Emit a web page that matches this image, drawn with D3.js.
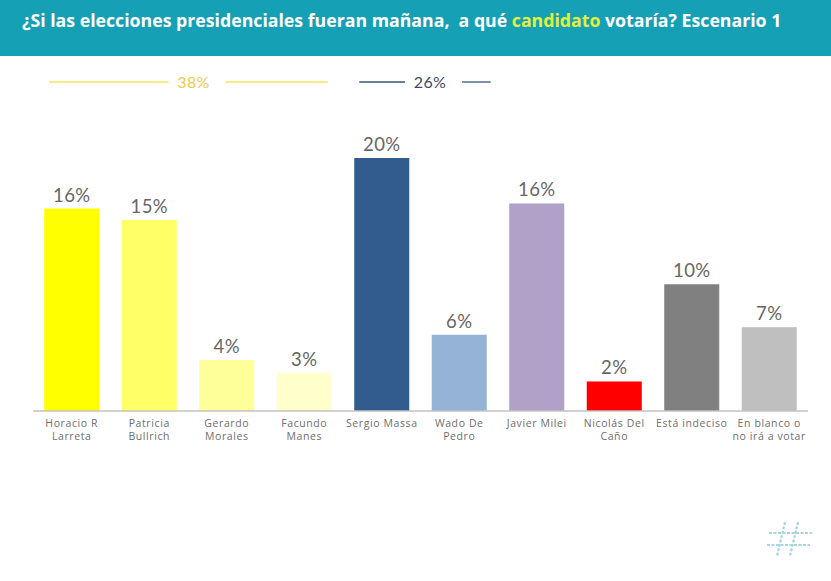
<!DOCTYPE html>
<html><head><meta charset="utf-8">
<script src="https://cdn.jsdelivr.net/npm/d3@7"></script>
<style>
html,body{margin:0;padding:0;background:#fff;}
svg{display:block;}
</style></head>
<body>
<svg id="chart" width="831" height="581"></svg>
<script>
// ---- data ----
const categories = ["Horacio R|Larreta","Patricia|Bullrich","Gerardo|Morales","Facundo|Manes","Sergio Massa","Wado De|Pedro","Javier Milei","Nicolás Del|Caño","Está indeciso","En blanco o|no irá a votar"];
const values = [16.0, 15.1, 4.0, 3.0, 20.0, 6.0, 16.4, 2.3, 10.0, 6.6];
const barColors = ["#FFFF00","#FFFF66","#FFFF99","#FFFFCC","#335C8E","#95B3D7","#B1A0C7","#FF0000","#808080","#BFBFBF"];
const groups = [
  {label:"38%", from:0, to:3, line:"#F8EA86", text:"#EBCB4C"},
  {label:"26%", from:4, to:5, line:"#3A5577", text:"#3E4A5E"}
];
const titleParts = [
  {t:"¿Si las elecciones presidenciales fueran mañana,  a qué ", c:"#FFFFFF"},
  {t:"candidato", c:"#E2F03C"},
  {t:" votaría? Escenario 1", c:"#FFFFFF"}
];

const svg = d3.select("#chart");
const W = 831, H = 581;

// header band
svg.append("rect").attr("x",0).attr("y",0).attr("width",W).attr("height",56).attr("fill","#16A0B5");
const title = svg.append("text").attr("x",22).attr("y",27)
  .attr("font-family","'Open Sans', sans-serif").attr("font-weight",700)
  .attr("font-size",16).style("white-space","pre").attr("xml:space","preserve");
title.selectAll("tspan").data(titleParts).join("tspan").attr("fill",d=>d.c).text(d=>d.t);
const tl = title.node().getComputedTextLength();
title.attr("font-size", 16*760/tl);

// scales
const x = d3.scaleBand().domain(d3.range(categories.length)).range([33,808]).paddingInner(0.29).paddingOuter(0.145);
const y = d3.scaleLinear().domain([0,20]).range([410.5,158]);

// bars
svg.append("g").selectAll("rect").data(values).join("rect")
  .attr("x",(d,i)=>x(i)).attr("width",x.bandwidth())
  .attr("y",d=>y(d)).attr("height",d=>y(0)-y(d))
  .attr("fill",(d,i)=>barColors[i]);

// value labels
svg.append("g").selectAll("text").data(values).join("text")
  .attr("x",(d,i)=>x(i)+x.bandwidth()/2).attr("y",d=>y(d)-7)
  .attr("text-anchor","middle").attr("font-family","Lato, sans-serif").attr("font-weight",400)
  .attr("font-size",18.5).attr("letter-spacing",0.4).attr("fill","#666666")
  .text(d=>d3.format(".0f")(d)+"%");

// axis
const axis = svg.append("g").attr("transform","translate(0,411)")
  .call(d3.axisBottom(x).tickSize(0).tickFormat(""));
axis.select(".domain").attr("stroke","#A6A6A6").attr("stroke-width",1.2).attr("d","M33,0H808");

// category labels
const cl = svg.append("g").selectAll("text").data(categories).join("text")
  .attr("x",(d,i)=>x(i)+x.bandwidth()/2).attr("y",427)
  .attr("text-anchor","middle").attr("font-family","'Open Sans', sans-serif")
  .attr("font-size",10.5).attr("letter-spacing",0.6).attr("fill","#6E6E6E");
cl.each(function(d){
  const parts = d.split("|");
  d3.select(this).selectAll("tspan").data(parts).join("tspan")
    .attr("x",d3.select(this).attr("x")).attr("dy",(p,j)=>j===0?0:12.8).text(p=>p);
});

// group brackets
groups.forEach(g=>{
  const x0 = x(g.from)+5, x1 = x(g.to)+x.bandwidth()+(g.from===0?-4:4);
  const cx = (x0+x1)/2 + 5, yy = 82;
  svg.append("line").attr("x1",x0).attr("x2",cx-25).attr("y1",yy).attr("y2",yy).attr("stroke",g.line).attr("stroke-width",g.from===0?2.2:1.3);
  svg.append("line").attr("x1",cx+32).attr("x2",x1).attr("y1",yy).attr("y2",yy).attr("stroke",g.line).attr("stroke-width",g.from===0?2.2:1.3);
  svg.append("text").attr("x",cx).attr("y",yy+5.5).attr("text-anchor","middle")
    .attr("font-family","Lato, sans-serif").attr("font-weight",400).attr("font-size",16).attr("letter-spacing",0.3).attr("fill",g.text).text(g.label);
});

// logo (hash mark)
const logo = svg.append("g").attr("stroke","#A8D3E0").attr("stroke-width",2.2).attr("stroke-dasharray","3 1.5").attr("fill","none");
[[785,522,777,556],[798,522,790,556]].forEach(p=>logo.append("line").attr("x1",p[0]).attr("y1",p[1]).attr("x2",p[2]).attr("y2",p[3]));
[[769,533,812,533],[767,545,810,545]].forEach(p=>logo.append("line").attr("x1",p[0]).attr("y1",p[1]).attr("x2",p[2]).attr("y2",p[3]));
</script>
</body></html>
